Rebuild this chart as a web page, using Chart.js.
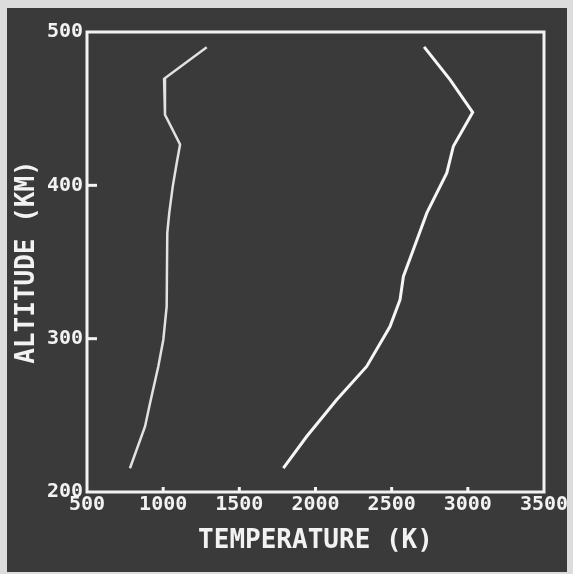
<!DOCTYPE html>
<html>
<head>
<meta charset="utf-8">
<title>Altitude vs Temperature</title>
<script src="https://cdn.jsdelivr.net/npm/chart.js@4/dist/chart.umd.min.js"></script>
<style>
    html, body {
        margin: 0;
        padding: 0;
        background: #dcdcdc;
    }
    #chart-box {
        width: 573px;
        height: 574px;
    }
</style>
</head>
<body>
<div id="chart-box">
    <canvas id="profile-chart" width="573" height="574"></canvas>
</div>
<script>
// readings taken off the plot: temperature (K) against altitude (km)
const coolTemps = [1286, 1006, 1012, 1111, 1089, 1063, 1040, 1027, 1023, 1001, 968, 914, 881, 782];
const coolAlts  = [490, 469.5, 446, 426.6, 414.6, 399.3, 382, 368.9, 321, 299.3, 281.9, 258, 242.7, 215.5];

const hotTemps = [2713, 2883, 3032, 2905, 2862, 2731, 2642, 2577, 2555, 2489, 2336, 2139, 1942, 1789];
const hotAlts  = [490.3, 469, 447.6, 425.5, 408.1, 382, 358, 340.6, 325.4, 307.9, 281.9, 260.1, 236.2, 215.5];

const tempTicks = [500, 1000, 1500, 2000, 2500, 3000, 3500];
const altTicks = [200, 300, 400, 500];

const xTitle = 'TEMPERATURE (K)';
const yTitle = 'ALTITUDE (KM)';

const monoFont = '"DejaVu Sans Mono", "Liberation Mono", monospace';

class ProfileChart {
    constructor() {
        this.chart = null;
        this.init();
    }

    toPoints(xs, ys) {
        return xs.map((x, i) => ({ x: x, y: ys[i] }));
    }

    // dark panel with the light scanned edge around it
    backdropPlugin() {
        return {
            id: 'backdrop',
            beforeDraw(chart) {
                const ctx = chart.ctx;
                ctx.save();
                ctx.fillStyle = '#dcdcdc';
                ctx.fillRect(0, 0, chart.width, chart.height);
                ctx.fillStyle = '#3a3a3a';
                ctx.fillRect(7, 8, 560, 564);
                ctx.restore();
            }
        };
    }

    // white frame plus the short inward tick marks
    framePlugin() {
        return {
            id: 'frame',
            afterDraw(chart) {
                const { ctx, chartArea } = chart;
                const xs = chart.scales.x;
                const ys = chart.scales.y;
                ctx.save();
                ctx.strokeStyle = '#f2f2f2';
                ctx.lineWidth = 3;
                ctx.strokeRect(chartArea.left, chartArea.top,
                    chartArea.right - chartArea.left, chartArea.bottom - chartArea.top);

                ctx.fillStyle = '#f2f2f2';
                tempTicks.slice(1, -1).forEach(t => {
                    const px = xs.getPixelForValue(t);
                    ctx.fillRect(px - 1.5, chartArea.bottom - 5, 3, 5);
                });
                altTicks.slice(1, -1).forEach(a => {
                    const py = ys.getPixelForValue(a);
                    ctx.fillRect(chartArea.left, py - 1.5, 10, 3);
                });
                ctx.restore();
            }
        };
    }

    init() {
        const ctx = document.getElementById('profile-chart').getContext('2d');

        this.chart = new Chart(ctx, {
            type: 'scatter',
            data: {
                datasets: [
                    {
                        label: 'low',
                        data: this.toPoints(coolTemps, coolAlts),
                        showLine: true,
                        borderColor: '#e2e2e2',
                        borderWidth: 2.5,
                        pointRadius: 0,
                        tension: 0
                    },
                    {
                        label: 'high',
                        data: this.toPoints(hotTemps, hotAlts),
                        showLine: true,
                        borderColor: '#f6f6f6',
                        borderWidth: 3,
                        pointRadius: 0,
                        tension: 0
                    }
                ]
            },
            options: {
                responsive: false,
                animation: false,
                layout: {
                    padding: { top: 32, right: 29, left: 0, bottom: 0 }
                },
                plugins: {
                    legend: { display: false },
                    tooltip: { enabled: false }
                },
                scales: {
                    x: {
                        type: 'linear',
                        min: 500,
                        max: 3500,
                        afterBuildTicks: scale => {
                            scale.ticks = tempTicks.map(v => ({ value: v }));
                        },
                        afterFit: scale => {
                            scale.height = 82;
                            scale.paddingLeft = 0;
                            scale.paddingRight = 0;
                        },
                        grid: { display: false, drawTicks: false },
                        border: { display: false },
                        ticks: {
                            color: '#f2f2f2',
                            padding: 1,
                            maxRotation: 0,
                            autoSkip: false,
                            callback: value => String(value),
                            font: { family: monoFont, size: 20, weight: 'bold' }
                        },
                        title: {
                            display: true,
                            text: xTitle,
                            color: '#f2f2f2',
                            padding: { top: 0, bottom: 17 },
                            font: { family: monoFont, size: 26, weight: 'bold' }
                        }
                    },
                    y: {
                        type: 'linear',
                        min: 200,
                        max: 500,
                        afterBuildTicks: scale => {
                            scale.ticks = altTicks.map(v => ({ value: v }));
                        },
                        afterFit: scale => {
                            scale.width = 87;
                        },
                        grid: { display: false, drawTicks: false },
                        border: { display: false },
                        ticks: {
                            color: '#f2f2f2',
                            padding: 4,
                            autoSkip: false,
                            callback: value => String(value),
                            font: { family: monoFont, size: 20, weight: 'bold' }
                        },
                        title: {
                            display: true,
                            text: yTitle,
                            color: '#f2f2f2',
                            padding: { top: 12, bottom: 0 },
                            font: { family: monoFont, size: 26, weight: 'bold' }
                        }
                    }
                }
            },
            plugins: [this.backdropPlugin(), this.framePlugin()]
        });
    }
}

document.addEventListener('DOMContentLoaded', () => {
    new ProfileChart();
});
</script>
</body>
</html>
